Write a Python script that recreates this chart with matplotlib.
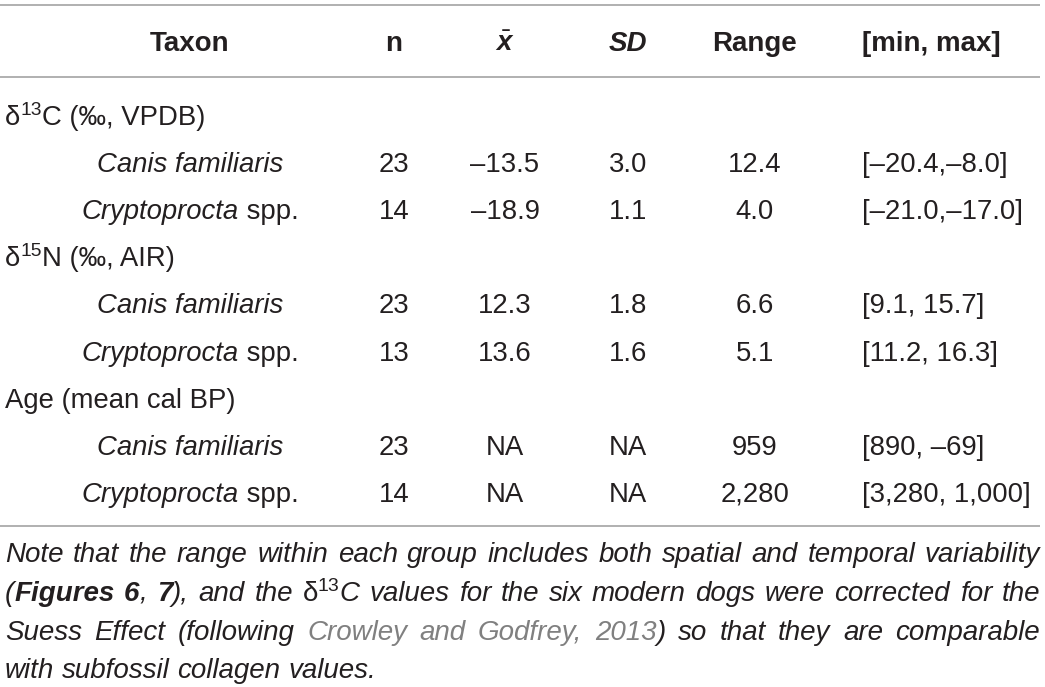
import matplotlib
matplotlib.use("Agg")
import matplotlib.pyplot as plt

plt.rcParams['font.family'] = ['Liberation Sans', 'DejaVu Sans']
plt.rcParams['mathtext.fontset'] = 'custom'
plt.rcParams['mathtext.rm'] = 'Liberation Sans'
plt.rcParams['mathtext.it'] = 'Liberation Sans:italic:bold'
plt.rcParams['mathtext.bf'] = 'Liberation Sans:bold'

# table content
headers = ["Taxon", "n", r"$\bar{x}$", "SD", "Range", "[min, max]"]
groups = [
    [("δ", "r"), ("13", "sup"), ("C (‰, VPDB)", "r")],
    [("δ", "r"), ("15", "sup"), ("N (‰, AIR)", "r")],
    [("Age (mean cal BP)", "r")],
]
taxa = [
    [("Canis familiaris", "i")],
    [("Cryptoprocta", "i"), (" spp.", "r")],
]
n_vals = [[23, 14], [23, 13], [23, 14]]
means = [["–13.5", "–18.9"], ["12.3", "13.6"], ["NA", "NA"]]
sds = [["3.0", "1.1"], ["1.8", "1.6"], ["NA", "NA"]]
ranges = [["12.4", "4.0"], ["6.6", "5.1"], ["959", "2,280"]]
minmax = [["[–20.4,–8.0]", "[–21.0,–17.0]"],
          ["[9.1, 15.7]", "[11.2, 16.3]"],
          ["[890, –69]", "[3,280, 1,000]"]]

note_lines = [
    ["Note that the range within each group includes both spatial and temporal variability"],
    [[("(", "i"), ("Figures", "bi")], [("6", "bi"), (",", "i")], [("7", "bi"), ("),", "i")],
     "and", "the", [("δ", "r"), ("13", "sup"), ("C", "i")],
     "values for the six modern dogs were corrected for the"],
    ["Suess Effect", [("(following", "i")], [("Crowley", "g")], [("and", "g")],
     [("Godfrey,", "g")], [("2013", "g"), (")", "i")], "so that they are comparable"],
    ["with subfossil collagen values."],
]

TXT = '#231f20'
GREY = '#808080'
RULE = '#a3a3a3'
SIZE = 19.8
HEAD_SIZE = 20
NOTE_SIZE = 20

fig = plt.figure(figsize=(10.45, 6.87), dpi=100)
ax = fig.add_axes([0, 0, 1, 1])
ax.set_xlim(0, 1045)
ax.set_ylim(687, 0)
ax.axis('off')
renderer = fig.canvas.get_renderer()


def props(style, size):
    p = dict(color=TXT, fontsize=size, va='baseline', ha='left')
    if style == 'i':
        p['style'] = 'italic'
    elif style == 'b':
        p['weight'] = 'bold'
    elif style == 'bi':
        p['weight'] = 'bold'
        p['style'] = 'italic'
    elif style == 'sup':
        p['fontsize'] = size * 0.7
    elif style == 'g':
        p['style'] = 'italic'
        p['color'] = GREY
    return p


def run_width(runs, size):
    total = 0
    for txt, style in runs:
        t = ax.text(0, 0, txt, **props(style, size))
        total += t.get_window_extent(renderer).width
        t.remove()
    return total


def draw_runs(x, y, runs, size, ha='left'):
    w = run_width(runs, size)
    if ha == 'center':
        x = x - w / 2
    for txt, style in runs:
        yy = y - size * 100 / 72 * 0.36 if style == 'sup' else y
        t = ax.text(x, yy, txt, **props(style, size))
        x += t.get_window_extent(renderer).width
    return w


def split_words(line):
    words = []
    for item in line:
        if isinstance(item, str):
            words += [[(w, 'i')] for w in item.split()]
        else:
            words.append(item)
    return words


# rules
for yl in [5, 77, 526]:
    ax.plot([0, 1040], [yl, yl], color=RULE, lw=1.2, solid_capstyle='butt')

# header
col_x = [190, 394, 505, 628, 755, 862]
for i, h in enumerate(headers):
    style = 'italic' if h == "SD" else 'normal'
    ax.text(col_x[i], 51, h, fontsize=HEAD_SIZE, weight='bold', style=style, color=TXT,
            ha='left' if i == 5 else 'center', va='baseline')

# body
y = 125
step = 47.1
for g in range(3):
    draw_runs(5, y, groups[g], SIZE)
    y += step
    for k in range(2):
        draw_runs(col_x[0], y, taxa[k], SIZE, ha='center')
        vals = [str(n_vals[g][k]), means[g][k], sds[g][k], ranges[g][k]]
        for c, v in enumerate(vals):
            ax.text(col_x[c + 1], y, v, fontsize=SIZE, color=TXT, ha='center', va='baseline')
        ax.text(col_x[5], y, minmax[g][k], fontsize=SIZE, color=TXT, ha='left', va='baseline')
        y += step

# note, justified
left, right = 5, 1040
space_w = run_width([("a a", 'i')], NOTE_SIZE) - run_width([("aa", 'i')], NOTE_SIZE)
note_y = [562, 601, 640, 678]
for li, line in enumerate(note_lines):
    words = split_words(line)
    widths = [run_width(w, NOTE_SIZE) for w in words]
    if li < len(note_lines) - 1:
        gap = (right - left - sum(widths)) / (len(words) - 1)
    else:
        gap = space_w
    x = left
    for w, wd in zip(words, widths):
        draw_runs(x, note_y[li], w, NOTE_SIZE)
        x += wd + gap

fig.savefig("out.png", dpi=100)
